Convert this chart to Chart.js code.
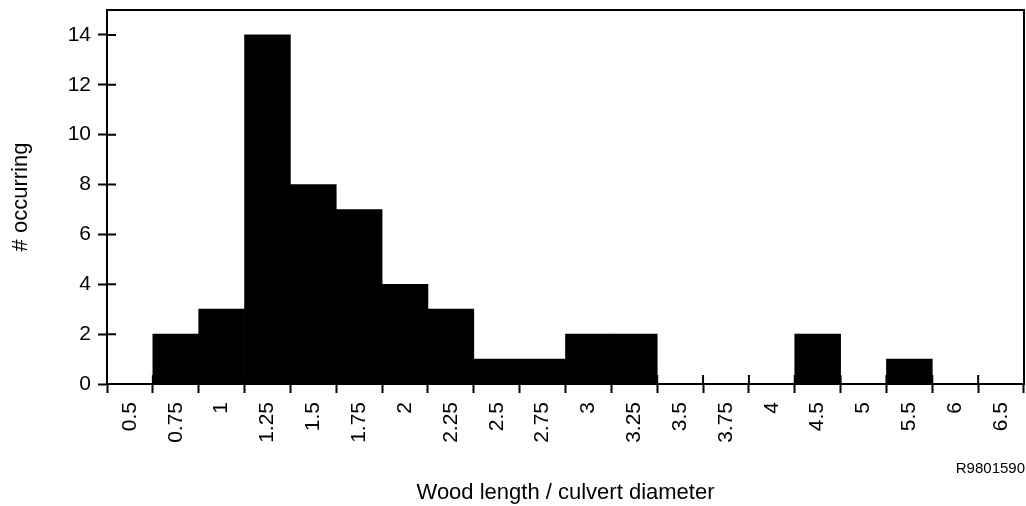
<!DOCTYPE html>
<html>
<head>
<meta charset="utf-8">
<script src="https://cdn.jsdelivr.net/npm/chart.js@4/dist/chart.umd.min.js"></script>
<style>
  html, body { margin: 0; padding: 0; background: #fff; }
  #wrap { width: 1026px; height: 506px; }
</style>
</head>
<body>
<div id="wrap"><canvas id="chart" width="1026" height="506"></canvas></div>
<script>
// histogram bins (label = bin) and counts
var binLabels = ['0.5', '0.75', '1', '1.25', '1.5', '1.75', '2', '2.25', '2.5', '2.75',
                 '3', '3.25', '3.5', '3.75', '4', '4.5', '5', '5.5', '6', '6.5'];
var counts = [0, 2, 3, 14, 8, 7, 4, 3, 1, 1, 2, 2, 0, 0, 0, 2, 0, 1, 0, 0];
var yMax = 15;
var yTickMax = 14;
var yStep = 2;

var fontFam = '"Liberation Sans", Arial, Helvetica, sans-serif';

// frame + tick marks that cross the axis + the figure id
var framePlugin = {
  id: 'frame',
  afterDraw: function(chart) {
    var ctx = chart.ctx;
    var a = chart.chartArea;
    var xs = chart.scales.x, ys = chart.scales.y;
    ctx.save();
    ctx.strokeStyle = '#000';
    ctx.lineWidth = 2;
    ctx.beginPath();
    ctx.moveTo(a.left, a.top);
    ctx.lineTo(a.right, a.top);
    ctx.lineTo(a.right, a.bottom);
    ctx.stroke();

    // inner half of tick marks
    ctx.beginPath();
    ys.ticks.forEach(function(t, i) {
      var y = ys.getPixelForTick(i);
      ctx.moveTo(a.left, y);
      ctx.lineTo(a.left + 9, y);
    });
    var step = xs.getPixelForTick(1) - xs.getPixelForTick(0);
    for (var i = 0; i <= binLabels.length; i++) {
      var x = xs.getPixelForTick(0) - step / 2 + i * step;
      ctx.moveTo(x, a.bottom);
      ctx.lineTo(x, a.bottom - 9);
    }
    ctx.stroke();

    ctx.fillStyle = '#000';
    ctx.font = '15px ' + fontFam;
    ctx.textAlign = 'right';
    ctx.textBaseline = 'middle';
    ctx.fillText('R9801590', 1025, 469);
    ctx.restore();
  }
};

new Chart(document.getElementById('chart'), {
  type: 'bar',
  data: {
    labels: binLabels,
    datasets: [{
      data: counts,
      backgroundColor: '#000',
      borderColor: '#000',
      borderWidth: 0,
      barPercentage: 1,
      categoryPercentage: 1
    }]
  },
  options: {
    responsive: false,
    animation: false,
    events: [],
    layout: { padding: { top: 10, right: 2, left: 0, bottom: 0 } },
    plugins: { legend: { display: false }, tooltip: { enabled: false } },
    scales: {
      x: {
        afterFit: function(s) { s.height = 122; s.paddingLeft = 0; s.paddingRight = 0; },
        grid: { display: true, drawOnChartArea: false, tickLength: 9, tickWidth: 2, tickColor: '#000', offset: true },
        border: { display: true, color: '#000', width: 2 },
        ticks: {
          color: '#000', minRotation: 90, maxRotation: 90, autoSkip: false, padding: 9,
          font: { family: fontFam, size: 21 }
        },
        title: {
          display: true, text: 'Wood length / culvert diameter', color: '#000',
          font: { family: fontFam, size: 22 }, padding: { top: 0, bottom: 0 }
        }
      },
      y: {
        min: 0, max: yMax, bounds: 'data',
        afterBuildTicks: function(s) {
          s.ticks = s.ticks.filter(function(t) { return t.value <= yTickMax; });
        },
        afterFit: function(s) { s.width = 107; s.paddingTop = 0; s.paddingBottom = 0; },
        grid: { display: true, drawOnChartArea: false, tickLength: 9, tickWidth: 2, tickColor: '#000' },
        border: { display: true, color: '#000', width: 2 },
        ticks: {
          stepSize: yStep, color: '#000', padding: 7,
          font: { family: fontFam, size: 21 }
        },
        title: {
          display: true, text: '# occurring', color: '#000',
          font: { family: fontFam, size: 22 }, padding: { top: 8, bottom: 0 }
        }
      }
    }
  },
  plugins: [framePlugin]
});
</script>
</body>
</html>
